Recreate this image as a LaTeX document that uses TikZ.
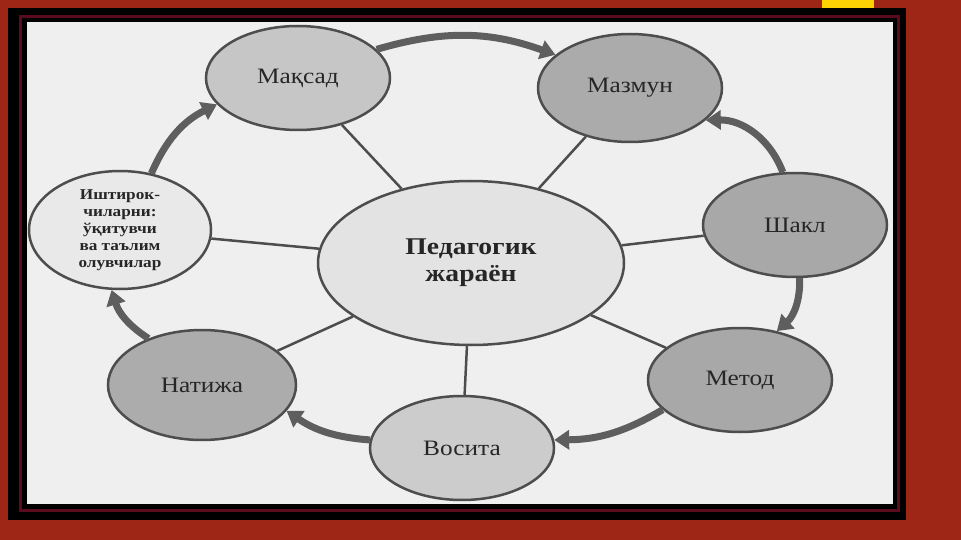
\documentclass[tikz,border=0pt]{standalone}
\usepackage{fontspec}
\setmainfont[FakeStretch=1.15]{Liberation Serif}
\usetikzlibrary{shapes.geometric,arrows.meta}

\definecolor{slidered}{HTML}{9E2616}
\definecolor{framemaroon}{HTML}{5A0B1E}
\definecolor{paper}{HTML}{EFEFEF}
\definecolor{rim}{HTML}{4D4D4D}
\definecolor{cycgray}{HTML}{5E5E5E}

\tikzset{
  bubble/.style={ellipse,draw=rim,line width=2.5pt,inner sep=0pt,
    minimum width=184pt,minimum height=104pt,text=black!85,font=\fontsize{22}{24}\selectfont},
  spoke/.style={draw=rim,line width=2.5pt},
  cyc/.style={draw=cycgray,line width=7pt,-{Triangle[length=15pt,width=19pt]}}
}

\begin{document}
\begin{tikzpicture}[x=1pt,y=-1pt]

% Draw the slide frame
\useasboundingbox (0,0) rectangle (961,540);
\fill[slidered] (0,0) rectangle (961,540);
\fill[yellow!70!orange] (822,0) rectangle (874,14);
\fill[black] (8,8) rectangle (906,520);
\draw[framemaroon,line width=3pt] (20,17) rectangle (898,510);
\fill[paper] (27,22) rectangle (893,504);

% Draw the nodes
\node[bubble,fill=gray!45] (maqsad) at (298,78) {Мақсад};
\node[bubble,fill=gray!66,minimum height=108pt] (mazmun) at (630,88) {Мазмун};
\node[bubble,fill=gray!68] (shakl) at (795,225) {Шакл};
\node[bubble,fill=gray!68] (metod) at (740,380) {Метод};
\node[bubble,fill=gray!40] (vosita) at (462,448) {Восита};
\node[bubble,fill=gray!65,minimum width=188pt,minimum height=110pt] (natija) at (202,385) {Натижа};
\node[bubble,fill=gray!17,minimum width=182pt,minimum height=118pt,align=center,
  font=\fontsize{15}{17}\selectfont\bfseries] (ishtirok) at (120,230)
  {Иштирок-\\чиларни:\\ўқитувчи\\ва таълим\\олувчилар};
\node[bubble,fill=gray!22,minimum width=306pt,minimum height=164pt,align=center,
  font=\fontsize{24}{27}\selectfont\bfseries] (ped) at (471,263) {Педагогик\\жараён};

% Draw the spokes
\foreach \n in {maqsad,mazmun,shakl,metod,vosita,natija,ishtirok}
  \draw[spoke] (ped) -- (\n);

% Draw the cycle arrows
\draw[cyc] (maqsad.20) to[bend left=18] (mazmun.156);
\draw[cyc] (shakl.103) to[bend right=35] (mazmun.-23);
\draw[cyc] (shakl.-85) to[bend left=25] (metod.53);
\draw[cyc] (metod.201) to[bend left=15] (vosita.5);
\draw[cyc] (vosita.175) to[bend left=15] (natija.-17);
\draw[cyc] (natija.139) to[bend left=20] (ishtirok.-98);
\draw[cyc] (ishtirok.61) to[bend left=20] (maqsad.198);

\end{tikzpicture}
\end{document}
